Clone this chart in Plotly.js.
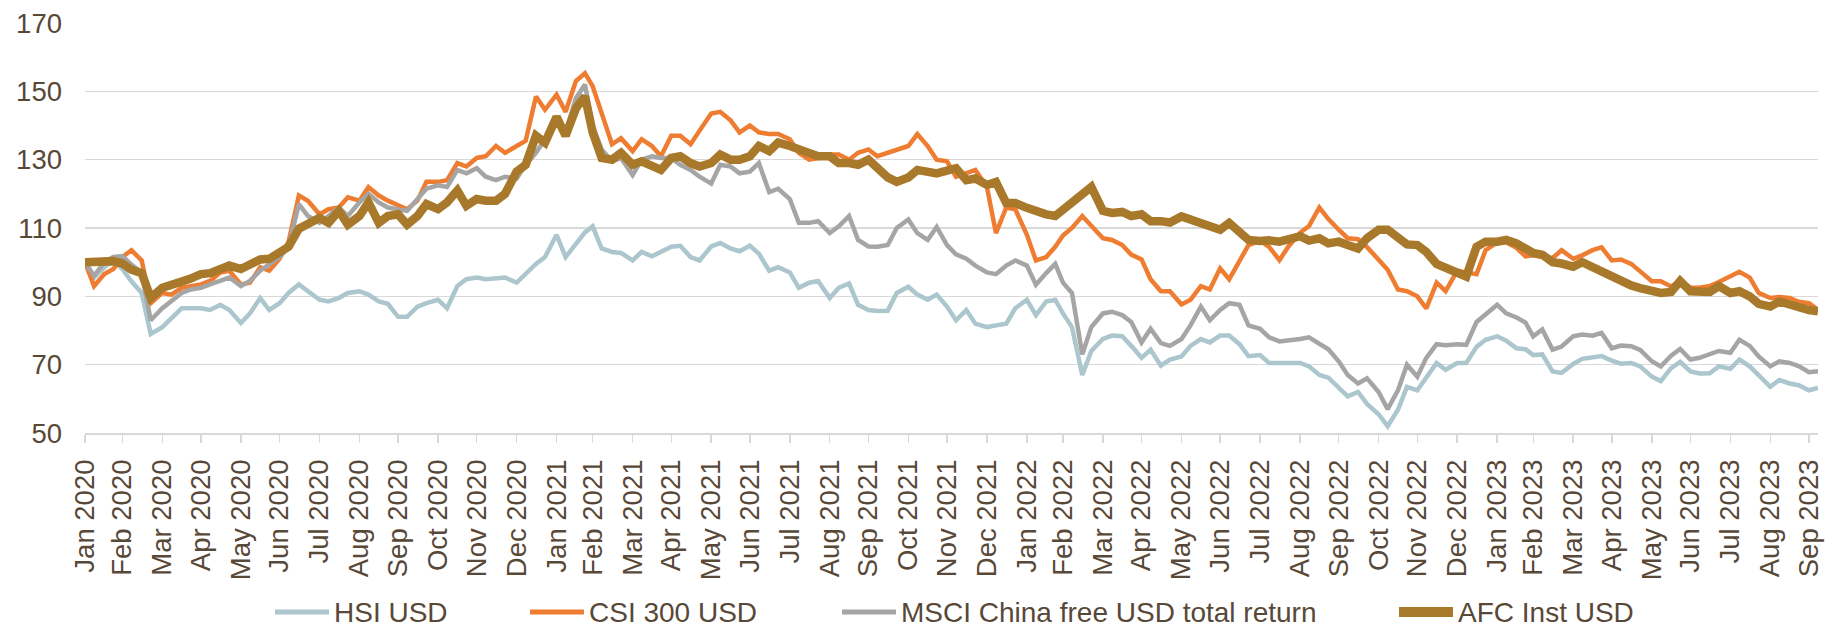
<!DOCTYPE html>
<html>
<head>
<meta charset="utf-8">
<script src="https://cdn.plot.ly/plotly-3.0.1.min.js"></script>
<style>
  html, body { margin: 0; padding: 0; background: #fff; }
  #chart { width: 1827px; height: 627px; }
</style>
</head>
<body>
<div id="chart"></div>
<script>
// Indexed to 100 at end of Jan 2020. Four readings per month:
// month end, then the 7th/15th/22nd days after it.
const SERIES_NAMES = ["HSI USD", "CSI 300 USD", "MSCI China free USD total return", "AFC Inst USD"];

const hsiUsd = [
  100, 95.5, 98.5, 100.5,   98, 94.4, 91, 79,   81, 83.5, 86.5, 86.5,   86.5, 86, 87.5, 86,
  82.2, 85, 89.5, 86,   88, 91, 93.5, 91.5,   89, 88.5, 89.5, 91,   91.5, 90.5, 88.5, 87.8,
  84, 84, 87, 88,   89, 86.5, 93, 95,   95.5, 95, 95.3, 95.5,   94, 96.5, 99.5, 101.5,
  108, 101.5, 105.6, 108.7,   110.5, 104, 103, 102.7,   100.5, 103, 101.7, 103,   104.5, 104.8, 101.5, 100.5,
  104.6, 105.6, 104, 103.2,   104.8, 102.5, 97.5, 98.5,   97, 92.5, 94, 94.5,   89.5, 92.5, 93.8, 87.5,
  86, 85.7, 85.8, 91,   92.8, 90.5, 89, 90.5,   87, 83, 86, 82,   81, 81.5, 82, 86.5,
  89, 84.5, 88.5, 89,   85, 81, 67, 74,   77.5, 78.5, 78.3, 75.5,   72, 74.4, 69.7, 71.5,
  72.4, 75.5, 77.5, 76.5,   78.5, 78.5, 76, 72.5,   72.8, 70.5, 70.5, 70.8,   70.5, 69.5, 67, 66.2,
  63.5, 60.7, 62, 58.5,   55.5, 52, 56.8, 63.5,   62.5, 66, 70.5, 68.5,   70.5, 70.5, 75.2, 77.3,
  78.3, 77, 74.8, 74.5,   72.8, 73, 68, 67.6,   70.2, 71.7, 72, 72.5,   71.2, 70.3, 70.5, 69.5,
  66.5, 65.2, 69, 70.8,   68, 67.4, 67.5, 69.5,   68.8, 71.5, 69.5, 67,   63.5, 65.5, 64.5, 64,
  62.5, 63.2
];

const csi300Usd = [
  100, 93, 96.5, 98,   101.5, 103.5, 100.5, 88,   91, 90.5, 92.5, 93,   93.5, 94.5, 97, 97.5,
  93.5, 94, 98.5, 97.5,   101, 106, 119.5, 118,   114, 115.5, 116, 119,   118, 122, 119.5, 118,
  116.5, 115.5, 118, 123.5,   123.5, 124, 129, 128,   130.5, 131, 134, 132,   134, 135.5, 148.5, 144.6,
  149, 144, 153, 155.3,   151.5, 144, 134.5, 136.3,   132.5, 136, 134, 131,   137, 137, 134.5, 138.5,
  143.5, 144, 141.5, 138,   140, 138, 137.5, 137.5,   136, 132, 130, 130.5,   131.5, 131.5, 130, 132,
  133, 131, 132, 133,   134, 137.5, 134, 130,   129.5, 125, 126, 127,   122, 108.5, 116, 115.5,
  108, 100.5, 101.5, 104.5,   107.8, 110, 113.5, 110.5,   107, 106.5, 105, 102.2,   100.8, 95, 91.5, 91.5,
  87.6, 89, 93, 92,   98.2, 95, 100.5, 105,   106.3, 104.5, 100.6, 104.6,   108.6, 110.6, 116, 112.6,
  109.5, 107, 106.7, 104.4,   100.7, 97.8, 92, 91.5,   90, 86.5, 94, 91.5,   97.5, 97, 96.5, 103.5,
  105.8, 105.8, 104.2, 101.7,   102, 101.5, 101.2, 103.5,   101, 102, 103.5, 104.3,   100.5, 100.8, 99.5, 97.3,
  94.4, 94.4, 92.9, 94.5,   92.5, 92.5, 93, 94.2,   96, 97.2, 95.5, 91,   89.5, 89.8, 89.5, 88.4,
  88, 86.1
];

const msciChinaUsd = [
  100, 96, 100, 101.5,   101.8, 99.3, 97, 83,   86.5, 88.5, 91, 92,   92.5, 93.5, 94.5, 95.5,
  93, 94.5, 97.5, 99.5,   101.5, 104.5, 117, 113.5,   111.5, 113.5, 116, 113.5,   117.5, 120, 117.5, 116,
  115.5, 115, 118.5, 121.5,   122.5, 122, 127, 126,   127.5, 125, 124, 125,   124.5, 128.5, 132, 136,
  142, 138, 148, 152,   140, 133, 129.5, 130.5,   125.5, 130, 131, 130.5,   130.5, 128.5, 127, 125,
  123, 128.5, 128, 126,   126.5, 129, 120.5, 121.5,   118.5, 111.5, 111.5, 112,   108.5, 110.5, 113.5, 106.5,
  104.6, 104.5, 105, 110,   112.5, 108.5, 106.5, 110.3,   105, 102.3, 101, 99,   97, 96.5, 99, 100.5,
  99, 93.4, 96.8, 99.5,   94, 91, 73, 81,   85, 85.5, 84.5, 82.5,   76.5, 80.5, 76.3, 75.5,
  77.5, 81.5, 87, 83,   86, 88, 87.5, 81.5,   80.5, 78, 76.8, 77,   77.5, 78, 76.3, 74.5,
  71, 67, 64.5, 66,   62, 57, 62.5, 70,   66.5, 72, 76, 75.7,   76, 75.8, 82.5, 84.6,
  87.5, 85, 83.8, 82.3,   78.3, 80.3, 74.4, 75.3,   78.3, 78.8, 78.5, 79.3,   74.8, 75.6, 75.4, 74.3,
  71, 69.5, 72.6, 74.6,   71.5, 72, 73, 74,   73.5, 77.3, 75.5, 72.4,   69.5, 71, 70.5, 69.6,
  67.8, 68.1
];

const afcInstUsd = [
  100, 100.1, 100.2, 100.3,   99.6, 97.8, 96.8, 89.5,   92.5, 93.6, 94.3, 95.2,   96.5, 96.8, 97.8, 99,
  98, 99, 100.8, 101,   102.8, 104.5, 109.8, 111.5,   113, 111.5, 115, 111,   113.5, 117.5, 111.5, 113.5,
  114, 111, 113.5, 117,   115.5, 117.5, 121, 116.5,   118.5, 118, 118, 120,   126.5, 128.5, 137, 135,
  142.5, 137, 145, 148.5,   138, 130.5, 130, 132,   128.5, 129.5, 128, 127,   130.5, 131, 129, 128,
  129, 131.5, 130, 130,   131, 134, 132.5, 135,   134, 133, 132.5, 131,   131, 129, 129, 128.5,
  130, 127.5, 124.8, 123.5,   124.8, 127, 126.5, 126,   126.8, 127.5, 124, 124.5,   122.6, 123.5, 117.3, 117.3,
  115.9, 114.8, 114, 113.5,   115.4, 117.5, 120.2, 122,   115, 114.4, 114.7, 113.5,   114, 112, 112, 111.6,
  113.4, 112.5, 111.5, 110,   109.5, 111.5, 108.5, 106.5,   106.2, 106.4, 106, 106.5,   107.6, 106.3, 107, 105.5,
  106, 105, 104, 107,   109.5, 109.5, 107.5, 105.2,   105, 103, 99.5, 98.2,   96.8, 95.8, 104.5, 106,
  106, 106.5, 105.5, 104.3,   102.7, 102.2, 100, 99.6,   98.7, 100, 98.5, 97.5,   95.8, 94.6, 93.2, 92.4,
  91.9, 91, 91.3, 94.5,   91.5, 91.6, 91.3, 93,   91, 91.5, 90, 87.8,   87, 88.5, 87.5, 86.9,
  86, 85.6
];

const COLORS = ["#abc6cd", "#ee7d31", "#a5a5a5", "#a8792b"];
const WIDTHS = [4.5, 4.5, 4.5, 8.5];
const TEXT = "#584838";
const GRID = "#d9d9d9";
const FONT = "Liberation Sans, Arial, sans-serif";

// month-end dates: tick for each labelled month, readings after it
const tickDates = [];
const dates = [];
const iso = (d) => d.toISOString().slice(0, 10);
for (let k = 0; k <= 44; k++) {
  const end = new Date(Date.UTC(2020 + Math.floor(k / 12), (k % 12) + 1, 0));
  tickDates.push(iso(end));
  const offs = k < 44 ? [0, 7, 15, 22] : [0, 7];
  for (const o of offs) dates.push(iso(new Date(end.getTime() + o * 86400000)));
}

const values = [hsiUsd, csi300Usd, msciChinaUsd, afcInstUsd];
const traces = values.map((v, i) => ({
  x: dates, y: v, type: "scatter", mode: "lines", name: SERIES_NAMES[i],
  line: { color: COLORS[i], width: WIDTHS[i], shape: "linear" },
  hoverinfo: "skip",
}));

// hand-placed legend row below the dates (Excel-style long line keys)
const M = { l: 85, r: 9, t: 23, b: 194 };
const plotW = 1827 - M.l - M.r, plotH = 627 - M.t - M.b;
const px = (p) => (p - M.l) / plotW;
const py = (p) => (627 - M.b - p) / plotH;
const legendStart = [275, 530, 842, 1399];
const legendY = 612;
const shapes = [], annotations = [];
SERIES_NAMES.forEach((n, i) => {
  shapes.push({
    type: "line", xref: "paper", yref: "paper",
    x0: px(legendStart[i]), x1: px(legendStart[i] + 54), y0: py(legendY), y1: py(legendY),
    line: { color: COLORS[i], width: i === 3 ? 10 : 5 },
  });
  annotations.push({
    xref: "paper", yref: "paper", x: px(legendStart[i] + 57), y: py(legendY),
    xanchor: "left", yanchor: "middle", showarrow: false, text: n,
    font: { family: FONT, size: 28, color: TEXT },
  });
});

const layout = {
  width: 1827, height: 627,
  margin: M,
  paper_bgcolor: "#ffffff", plot_bgcolor: "#ffffff",
  font: { family: FONT, size: 27.5, color: TEXT },
  showlegend: false,
  xaxis: {
    type: "date", range: ["2020-01-31", "2023-10-07"],
    tickmode: "array", tickvals: tickDates, tickformat: "%b %Y", tickangle: -90,
    ticks: "outside", ticklen: 8, tickwidth: 1.5, tickcolor: GRID,
    showline: true, linecolor: GRID, linewidth: 1.5,
    showgrid: false, zeroline: false, ticklabelstandoff: 6,
    ticklabeloverflow: "allow",
    tickfont: { family: FONT, size: 27.5, color: TEXT },
  },
  yaxis: {
    range: [50, 170], tick0: 50, dtick: 20,
    gridcolor: GRID, gridwidth: 1.5, zeroline: false, showline: false,
    ticks: "", ticklabelstandoff: 22,
    tickfont: { family: FONT, size: 27.5, color: TEXT },
  },
  shapes, annotations,
};

Plotly.newPlot("chart", traces, layout, { staticPlot: true, displayModeBar: false });
</script>
</body>
</html>
